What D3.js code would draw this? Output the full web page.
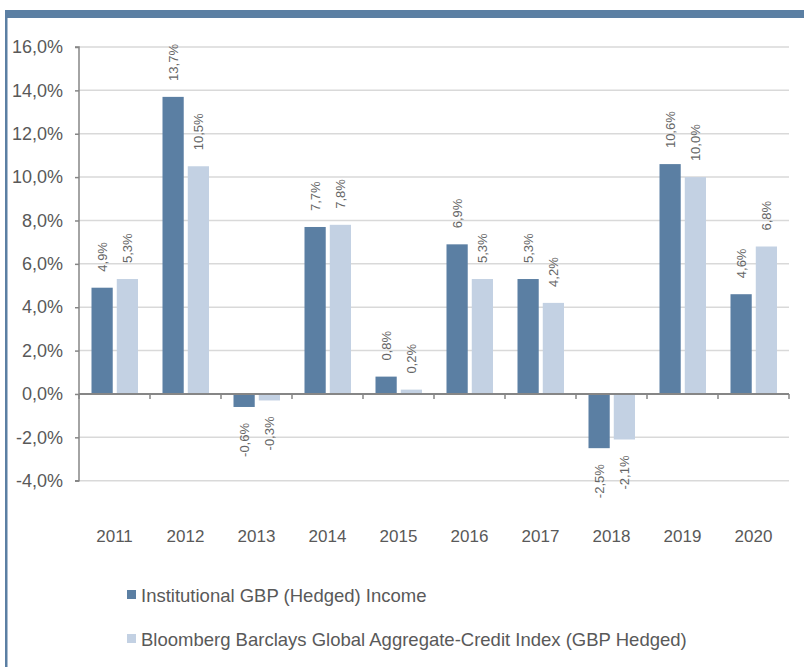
<!DOCTYPE html>
<html>
<head>
<meta charset="utf-8">
<script src="https://cdn.jsdelivr.net/npm/d3@7"></script>
<style>
  body { margin: 0; background: #fff; }
  svg { display: block; font-family: "Liberation Sans", Arial, sans-serif; }
</style>
</head>
<body>
<svg id="chart"></svg>
<script>
// data
const years = ["2011", "2012", "2013", "2014", "2015", "2016", "2017", "2018", "2019", "2020"];
const seriesNames = ["Institutional GBP (Hedged) Income", "Bloomberg Barclays Global Aggregate-Credit Index (GBP Hedged)"];
const incomeValues = [4.9, 13.7, -0.6, 7.7, 0.8, 6.9, 5.3, -2.5, 10.6, 4.6];
const indexValues = [5.3, 10.5, -0.3, 7.8, 0.2, 5.3, 4.2, -2.1, 10.0, 6.8];
const yTicks = [-4, -2, 0, 2, 4, 6, 8, 10, 12, 14, 16];
const colors = ["#5b7fa3", "#c3d1e3"];

const w = 804, h = 667;
const svg = d3.select("#chart").attr("width", w).attr("height", h);

// rammen: bjælke i toppen og streg i venstre side
svg.append("rect").attr("x", 5).attr("y", 10).attr("width", w - 5).attr("height", 8).attr("fill", "#5b7fa3");
svg.append("rect").attr("x", 5).attr("y", 10).attr("width", 2.5).attr("height", h - 10).attr("fill", "#5b7fa3");

const plotLeft = 79, plotRight = 789, plotTop = 47, plotBottom = 480.7;

const x0 = d3.scaleBand().domain(years).range([plotLeft, plotRight]).padding(0);
const x1 = d3.scaleBand().domain([0, 1]).range([12.5, 59]).paddingInner(0.16);
const y = d3.scaleLinear().domain([-4, 16]).range([plotBottom, plotTop]);

// komma som decimaltegn og almindelig bindestreg som minus
const fmt = v => (v < 0 ? "-" : "") + Math.abs(v).toFixed(1).replace(".", ",") + "%";

// gitterlinjer
svg.append("g")
  .selectAll("line")
  .data(yTicks.filter(d => d !== 0))
  .join("line")
  .attr("x1", plotLeft).attr("x2", plotRight)
  .attr("y1", d => y(d)).attr("y2", d => y(d))
  .attr("stroke", "#d9d9d9").attr("stroke-width", 1.5);

// bars
const rows = years.map((yr, i) => ({ year: yr, vals: [incomeValues[i], indexValues[i]] }));
const groups = svg.append("g").selectAll("g")
  .data(rows)
  .join("g")
  .attr("transform", d => `translate(${x0(d.year)},0)`);

groups.selectAll("rect")
  .data(d => d.vals.map((v, k) => ({ v, k })))
  .join("rect")
  .attr("x", d => x1(d.k))
  .attr("width", x1.bandwidth())
  .attr("y", d => y(Math.max(0, d.v)))
  .attr("height", d => Math.abs(y(d.v) - y(0)))
  .attr("fill", d => colors[d.k]);

// data labels, roteret
groups.selectAll("text")
  .data(d => d.vals.map((v, k) => ({ v, k })))
  .join("text")
  .attr("transform", d => {
    const cx = x1(d.k) + x1.bandwidth() / 2;
    const cy = d.v >= 0 ? y(d.v) - 16 : y(d.v) + 16;
    return `translate(${cx},${cy}) rotate(-90)`;
  })
  .attr("text-anchor", d => d.v >= 0 ? "start" : "end")
  .attr("dy", "0.35em")
  .attr("font-size", 13)
  .attr("fill", "#666")
  .text(d => fmt(d.v));

// y-akse
const yAxis = d3.axisLeft(y).tickValues(yTicks).tickSize(4).tickPadding(12).tickFormat(fmt);
const gy = svg.append("g").attr("transform", `translate(${plotLeft},0)`).call(yAxis);
gy.select(".domain").attr("stroke", "#868686").attr("stroke-width", 1.5).attr("d", `M-4,${plotTop}H0V${plotBottom}H-4`);
gy.selectAll(".tick line").attr("stroke", "#868686").attr("stroke-width", 1.5);
gy.selectAll(".tick text").attr("font-size", 18).attr("fill", "#595959").attr("font-family", "Liberation Sans, Arial, sans-serif");

// x-akse ved 0
const boundaries = years.map(d => x0(d)).concat([plotRight]);
const gx = svg.append("g");
gx.append("line").attr("x1", plotLeft).attr("x2", plotRight).attr("y1", y(0)).attr("y2", y(0))
  .attr("stroke", "#868686").attr("stroke-width", 2);
gx.selectAll(".tk").data(boundaries).join("line").attr("class", "tk")
  .attr("x1", d => d).attr("x2", d => d)
  .attr("y1", y(0)).attr("y2", y(0) + 5)
  .attr("stroke", "#868686").attr("stroke-width", 1.5);

// årstal
svg.append("g").selectAll("text")
  .data(years)
  .join("text")
  .attr("x", d => x0(d) + x0.bandwidth() / 2)
  .attr("y", 542)
  .attr("text-anchor", "middle")
  .attr("font-size", 17)
  .attr("fill", "#595959")
  .text(d => d);

// legend
const legend = svg.append("g").selectAll("g")
  .data(seriesNames)
  .join("g")
  .attr("transform", (d, i) => `translate(127,${590 + i * 44})`);
legend.append("rect").attr("width", 9).attr("height", 9).attr("fill", (d, i) => colors[i]);
legend.append("text")
  .attr("x", 14).attr("y", 11.8)
  .attr("font-size", 18.5)
  .attr("fill", "#595959")
  .text(d => d);
</script>
</body>
</html>
